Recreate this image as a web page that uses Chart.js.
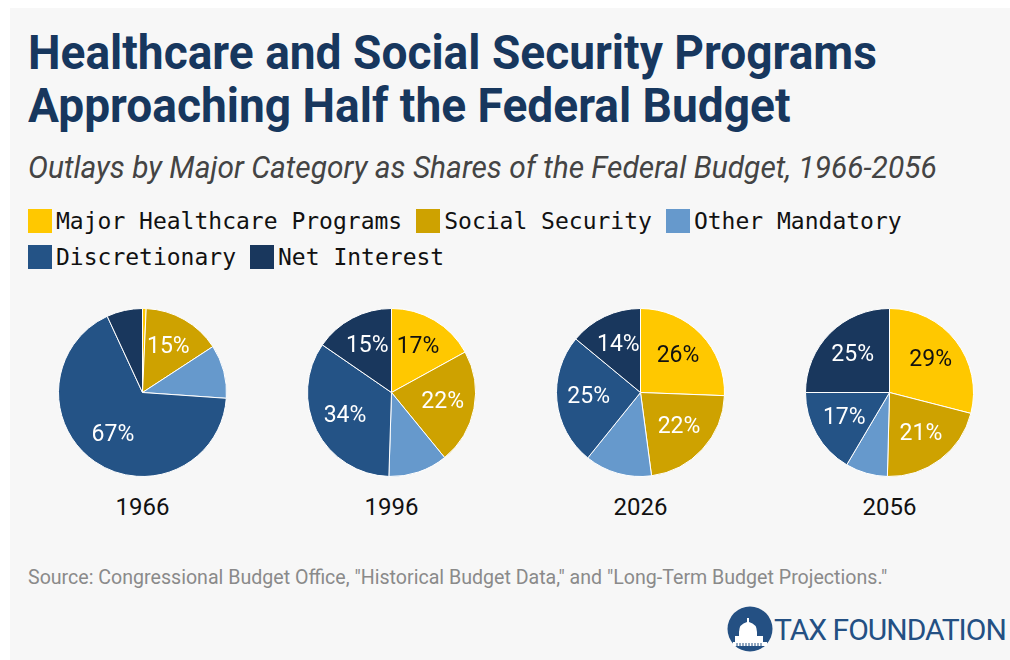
<!DOCTYPE html>
<html>
<head>
<meta charset="utf-8">
<script src="https://cdn.jsdelivr.net/npm/chart.js@4.4.1/dist/chart.umd.min.js"></script>
<style>
  html, body { margin: 0; padding: 0; background: #fff; }
  body { width: 1010px; height: 660px; position: relative; overflow: hidden; font-family: Roboto, sans-serif; }
  #panel { position: absolute; left: 10px; top: 8px; width: 1000px; height: 652px; background: #f7f7f7; }
  .abs { position: absolute; white-space: nowrap; }
  #title { left: 28px; top: 26px; font-weight: 700; font-size: 48px; line-height: 53px; color: #17375e; transform: scaleX(0.96); transform-origin: left top; }
  #subtitle { left: 28px; top: 148px; font-style: italic; font-size: 32px; color: #444; transform: scaleX(0.935); transform-origin: left top; }
  #legend { left: 28px; top: 203px; font-family: "DejaVu Sans Mono", monospace; font-size: 23px; color: #111; }
  .row { height: 36px; display: flex; align-items: center; }
  .item { display: flex; align-items: center; margin-right: 14px; }
  .sw { width: 24px; height: 24px; margin-right: 4px; }
  .pie { position: absolute; top: 307px; width: 249px; height: 171px; }
  .year { position: absolute; top: 493px; width: 249px; text-align: center; font-size: 24px; color: #111; }
  #source { left: 28px; top: 566px; font-size: 19.6px; color: #8a8a8a; }
  #logo { left: 727px; top: 606px; display: flex; align-items: center; }
  #logo span { font-size: 30px; color: #245083; letter-spacing: -1px; margin-left: 1px; }
</style>
</head>
<body>
<div id="panel"></div>
<div id="title" class="abs">Healthcare and Social Security Programs<br>Approaching Half the Federal Budget</div>
<div id="subtitle" class="abs">Outlays by Major Category as Shares of the Federal Budget, 1966-2056</div>
<div id="legend" class="abs"></div>
<div id="pies"></div>
<div id="source" class="abs">Source: Congressional Budget Office, "Historical Budget Data," and "Long-Term Budget Projections."</div>
<div id="logo" class="abs">
  <svg width="46" height="46" viewBox="0 0 46 46">
    <circle cx="23" cy="23" r="22.5" fill="#245083"/>
    <path d="M6 40 L40 40 L40 36 L36 36 L36 30 L30 30 L30 26 Q30 18 22 16 L22 12 L20 12 L20 16 Q12 18 12 26 L12 30 L8 30 L8 36 L6 36 Z" fill="#fff"/>
    <path d="M10 37 v3 M13 37 v3 M16 37 v3 M19 37 v3 M22 37 v3 M25 37 v3 M28 37 v3 M31 37 v3 M34 37 v3" stroke="#245083" stroke-width="1"/>
  </svg>
  <span>TAX FOUNDATION</span>
</div>
<script>
const categories = ['Major Healthcare Programs', 'Social Security', 'Other Mandatory', 'Discretionary', 'Net Interest'];
const colors = ['#ffc800', '#cea200', '#6699cc', '#245386', '#19375d'];
const years = ['1966', '1996', '2026', '2056'];

// shares of the federal budget (%), order follows categories
const shares1966 = [0.7, 15.1, 10.3, 67, 6.9];
const shares1996 = [17, 22.1, 11.4, 34.1, 15.4];
const shares2026 = [25.6, 22.3, 12.9, 25.2, 14];
const shares2056 = [29, 21.4, 8.1, 16.5, 25];

// rounded labels as printed; null = not labelled
const labels1966 = [null, '15%', null, '67%', null];
const labels1996 = ['17%', '22%', null, '34%', '15%'];
const labels2026 = ['26%', '22%', null, '25%', '14%'];
const labels2056 = ['29%', '21%', null, '17%', '25%'];

const allShares = [shares1966, shares1996, shares2026, shares2056];
const allLabels = [labels1966, labels1996, labels2026, labels2056];

// legend
const legend = document.getElementById('legend');
const rows = [[0, 1, 2], [3, 4]];
rows.forEach(r => {
  const row = document.createElement('div');
  row.className = 'row';
  r.forEach(i => {
    const it = document.createElement('div');
    it.className = 'item';
    it.innerHTML = `<div class="sw" style="background:${colors[i]}"></div>${categories[i]}`;
    row.appendChild(it);
  });
  legend.appendChild(row);
});

// draws the percent text inside slices
const sliceLabels = {
  id: 'sliceLabels',
  afterDatasetsDraw(chart, args, opts) {
    const ctx = chart.ctx;
    const meta = chart.getDatasetMeta(0);
    ctx.save();
    ctx.font = '23px Roboto';
    ctx.textAlign = 'center';
    ctx.textBaseline = 'middle';
    meta.data.forEach((arc, i) => {
      const txt = opts.labels[i];
      if (!txt) return;
      const a = (arc.startAngle + arc.endAngle) / 2;
      const r = arc.outerRadius * 0.62;
      ctx.fillStyle = i === 0 ? '#111' : '#fff';
      ctx.fillText(txt, arc.x + Math.cos(a) * r, arc.y + Math.sin(a) * r);
    });
    ctx.restore();
  }
};

const pies = document.getElementById('pies');
years.forEach((yr, k) => {
  const left = 18 + k * 249;
  const box = document.createElement('div');
  box.className = 'pie';
  box.style.left = left + 'px';
  const cv = document.createElement('canvas');
  box.appendChild(cv);
  pies.appendChild(box);

  const lab = document.createElement('div');
  lab.className = 'year';
  lab.style.left = left + 'px';
  lab.textContent = yr;
  pies.appendChild(lab);

  new Chart(cv, {
    type: 'pie',
    data: {
      labels: categories,
      datasets: [{
        data: allShares[k],
        backgroundColor: colors,
        borderColor: '#fff',
        borderWidth: 1
      }]
    },
    options: {
      responsive: true,
      maintainAspectRatio: false,
      animation: false,
      layout: { padding: 1 },
      plugins: {
        legend: { display: false },
        tooltip: { enabled: false },
        sliceLabels: { labels: allLabels[k] }
      }
    },
    plugins: [sliceLabels]
  });
});
</script>
</body>
</html>
